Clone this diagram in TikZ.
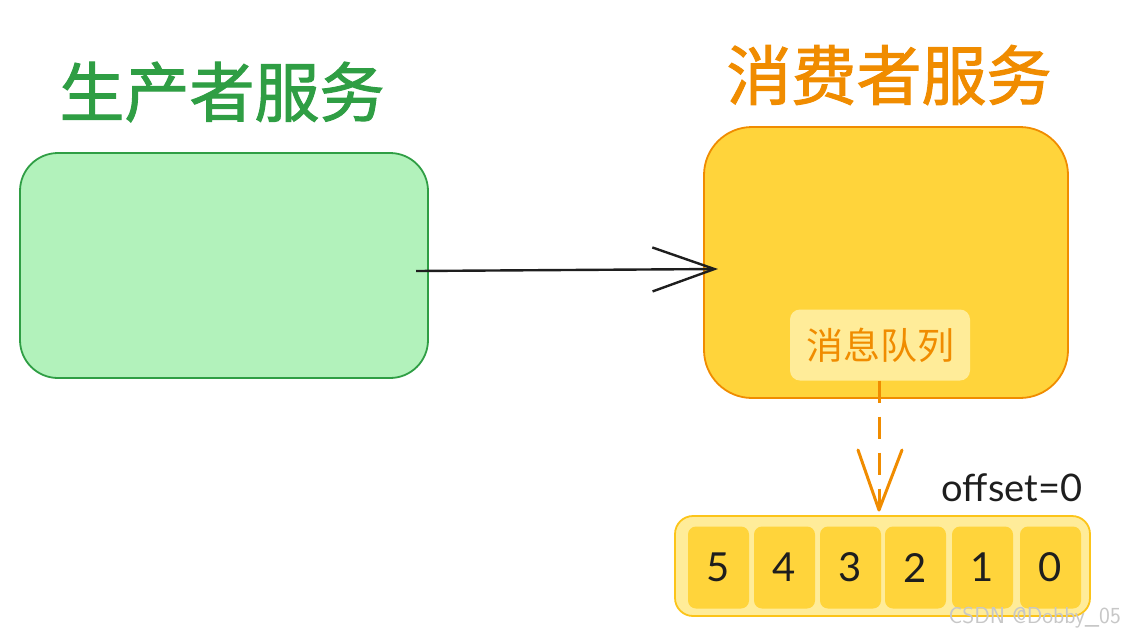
\documentclass[tikz,border=0pt]{standalone}
\usepackage{fontspec}
\setmainfont{Lato}
\newfontfamily\cjk{Noto Sans CJK SC}
\newfontfamily\cjkt[FakeBold=1.6]{Noto Sans CJK SC}
\usetikzlibrary{arrows.meta}
\definecolor{gstroke}{HTML}{2F9E44}
\definecolor{gfill}{HTML}{B2F2BB}
\definecolor{ostroke}{HTML}{F08C00}
\definecolor{yfill}{HTML}{FFD43B}
\definecolor{lyfill}{HTML}{FFEC99}
\definecolor{ystroke}{HTML}{FCC419}
\definecolor{ink}{HTML}{1E1E1E}
\tikzset{
  title/.style={font=\cjkt\fontsize{65}{72}\selectfont, inner sep=0pt},
  cell/.style={fill=yfill, rounded corners=8pt, minimum width=61pt, minimum height=82pt, inner sep=0pt, font=\fontsize{40}{44}\selectfont, text=ink},
  openhead/.style={-{Straight Barb[length=#1, width=44pt, line width=2.4pt]}}
}
\begin{document}
\begin{tikzpicture}[x=1pt,y=-1pt]
\useasboundingbox (0,0) rectangle (1123,638);
% titles
\node[title, text=gstroke] (ptitle) at (222,92) {生产者服务};
\node[title, text=ostroke] (ctitle) at (889,75) {消费者服务};
% producer box
\draw[draw=gstroke, fill=gfill, line width=1.8pt, rounded corners=38pt] (20,153) rectangle (428,378);
\coordinate (pout) at (416,271);
% consumer box
\draw[draw=ostroke, fill=yfill, line width=1.8pt, rounded corners=48pt] (704,127) rectangle (1068,398);
\coordinate (cin) at (718,269);
% queue label
\node[fill=lyfill, rounded corners=10pt, minimum width=180pt, minimum height=71pt, inner sep=0pt, text=ostroke, font=\cjk\fontsize{37}{40}\selectfont] (mq) at (880,345) {消息队列};
% main arrow
\draw[ink, line width=2.4pt, openhead=62pt] (pout) -- (cin);
% queue
\draw[draw=ystroke, fill=lyfill, line width=1.8pt, rounded corners=18pt] (675,516) rectangle (1090,616);
\node[cell] (c5) at (718.5,567.5) {5};
\node[cell] (c4) at (784.5,567.5) {4};
\node[cell] (c3) at (850.5,567.5) {3};
\node[cell] (c2) at (915.5,567.5) {2};
\node[cell] (c1) at (982.5,567.5) {1};
\node[cell] (c0) at (1050.5,567.5) {0};
\coordinate (qtop) at (879,510);
% dashed arrow
\draw[ostroke, line width=3pt, dash pattern=on 22pt off 14pt] (mq.south -| qtop) -- (qtop);
\draw[ostroke, line width=3pt, line cap=round, line join=round] (858,450) -- (qtop) -- (902,450);
% offset label
\node[font=\fontsize{38}{40}\selectfont, text=ink, inner sep=0pt] (off) at (1012,488) {offset=0};
% watermark
\node[font=\sffamily\fontsize{23}{26}\selectfont, text=black!22, anchor=east, inner sep=0pt] (wm) at (1121,618) {CSDN @Dobby\_05};
\end{tikzpicture}
\end{document}
